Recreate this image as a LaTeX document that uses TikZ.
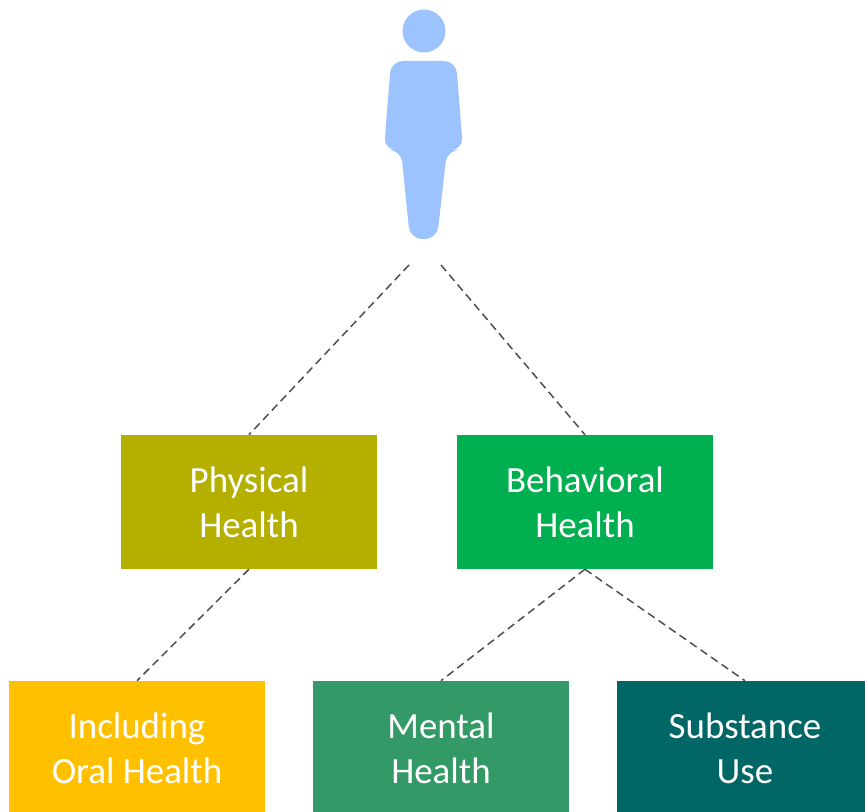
\documentclass[tikz,border=0pt]{standalone}
\usepackage{fontspec}
\setmainfont{Carlito}
\usetikzlibrary{calc}

\definecolor{personblue}{HTML}{9DC3FF}
\definecolor{physicalolive}{HTML}{B5AF00}
\definecolor{behavioralgreen}{HTML}{00B050}
\definecolor{oralgold}{HTML}{FFC000}
\definecolor{mentalgreen}{HTML}{339966}
\definecolor{substanceteal}{HTML}{006666}

\tikzset{
	healthbox/.style={minimum width=192pt, minimum height=100.5pt, inner sep=0pt,
		text=white, align=center, font=\fontsize{27.7}{33.75}\selectfont},
	link/.style={draw=black!70, line width=1.1pt, dash pattern=on 6pt off 3.6pt}
}

\begin{document}
\begin{tikzpicture}[x=0.75pt,y=-0.75pt]

	% page
	\useasboundingbox (0,0) rectangle (865,812);

	% person
	\fill[personblue] (424,31) circle (21.5);
	\fill[personblue, rounded corners=9pt]
		(391,61) -- (456,61) -- (463,150) -- (447,150) -- (437,239)
		-- (410,239) -- (401,150) -- (384,150) -- cycle;

	% free ends under the person
	\coordinate (L) at (409,265);
	\coordinate (R) at (441,265);

	% boxes
	\node[healthbox, fill=physicalolive]   (P) at (249,502) {Physical\\Health};
	\node[healthbox, fill=behavioralgreen] (B) at (585,502) {Behavioral\\Health};
	\node[healthbox, fill=oralgold]        (O) at (137,748) {Including\\Oral Health};
	\node[healthbox, fill=mentalgreen]     (M) at (441,748) {Mental\\Health};
	\node[healthbox, fill=substanceteal]   (S) at (745,748) {Substance\\Use};

	% links
	\draw[link] (L) -- (P.north);
	\draw[link] (R) -- (B.north);
	\draw[link] (P.south) -- (O.north);
	\draw[link] (B.south) -- (M.north);
	\draw[link] (B.south) -- (S.north);

\end{tikzpicture}
\end{document}
